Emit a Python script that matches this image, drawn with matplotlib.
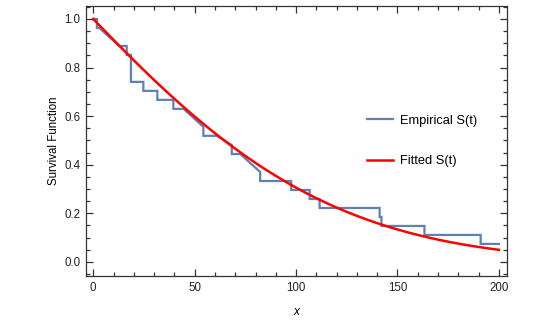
"""
Empirical vs fitted survival function, Mathematica-style frame.
"""
import numpy as np
import matplotlib.pyplot as plt
from matplotlib.ticker import MultipleLocator

# empirical survival curve, vertices (t, S)
emp_t = [0, 1.8, 1.8, 3.0, 12.8, 16.5, 16.5, 18.6, 18.6, 24.7, 24.7, 31.6, 31.6,
         39.5, 39.5, 44.5, 54.3, 54.3, 60.9, 68.3, 68.3, 72.5, 82.3, 82.3, 97.6,
         97.6, 106.7, 106.7, 111.6, 111.6, 141.2, 141.2, 142.1, 142.1, 163.3,
         163.3, 191.0, 191.0, 200.0]
emp_s = [1.0, 1.0, 0.963, 0.963, 0.889, 0.889, 0.852, 0.852, 0.741, 0.741, 0.704,
         0.704, 0.667, 0.667, 0.630, 0.630, 0.556, 0.519, 0.519, 0.481, 0.444,
         0.444, 0.370, 0.333, 0.333, 0.296, 0.296, 0.259, 0.259, 0.222, 0.222,
         0.185, 0.185, 0.148, 0.148, 0.111, 0.111, 0.074, 0.074]

# fitted model: S(t) = exp(-(a t + b t^2))
fit_a = 0.0087
fit_b = 3.15e-5
t_max = 200

x_ticks = [0, 50, 100, 150, 200]
y_ticks = [0.0, 0.2, 0.4, 0.6, 0.8, 1.0]

BLUE = "#5E81B5"
RED = "#FF0000"
plt.rcParams["font.family"] = ["Liberation Sans", "DejaVu Sans"]

fig = plt.figure(figsize=(5.58, 3.2), dpi=100)
ax = fig.add_axes([0.154, 0.1375, 0.755, 0.8435])

tt = np.linspace(0, t_max, 400)
ax.plot(emp_t, emp_s, color=BLUE, lw=1.6, label="Empirical S(t)", solid_joinstyle="miter")
ax.plot(tt, np.exp(-(fit_a * tt + fit_b * tt ** 2)), color=RED, lw=1.8, label="Fitted S(t)")

ax.set_xlim(-3.6, 204.1)
ax.set_ylim(-0.058, 1.053)
ax.set_xticks(x_ticks)
ax.set_yticks(y_ticks)
ax.set_yticklabels([f"{v:.1f}" for v in y_ticks])
ax.xaxis.set_minor_locator(MultipleLocator(10))
ax.yaxis.set_minor_locator(MultipleLocator(0.05))
ax.tick_params(which="both", direction="in", top=True, right=True,
               color="#333333", labelsize=8.3, labelcolor="#222222", width=0.9)
ax.tick_params(which="major", length=5, pad=4)
ax.tick_params(which="minor", length=3)
for sp in ax.spines.values():
    sp.set_color("#333333")
    sp.set_linewidth(0.9)

ax.set_xlabel("x", style="italic", fontsize=8.5, labelpad=9)
ax.set_ylabel("Survival Function", fontsize=8.3, labelpad=3)

ax.legend(loc="center left", bbox_to_anchor=(367 / 558, 0.56), bbox_transform=fig.transFigure,
          frameon=False, fontsize=9.3, handlelength=2.0, handletextpad=0.55,
          labelspacing=2.2, borderpad=0, borderaxespad=0)

fig.savefig("out.png", dpi=100)
